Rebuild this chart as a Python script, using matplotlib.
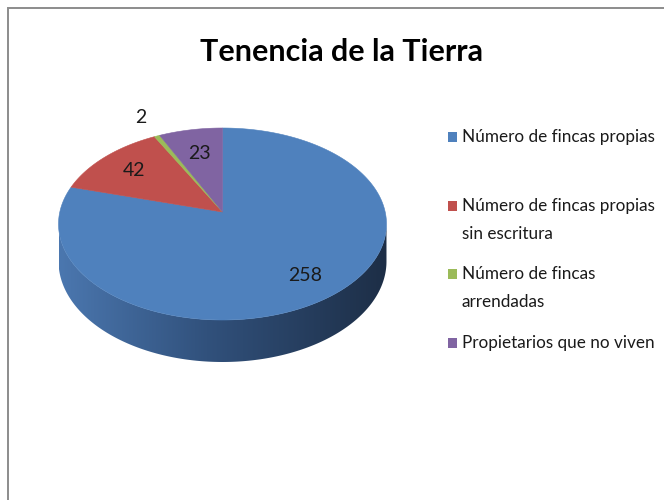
"""Tenencia de la Tierra: 3D-style pie chart (Excel look), saved to out.png."""

import matplotlib

matplotlib.use("Agg")
import matplotlib.pyplot as plt
import numpy as np
from matplotlib.colors import LinearSegmentedColormap
from matplotlib.patches import Polygon, Rectangle

# =========================
# data
# =========================
title = "Tenencia de la Tierra"
categories = [
    "Número de fincas propias",
    "Número de fincas propias\nsin escritura",
    "Número de fincas\narrendadas",
    "Propietarios que no viven",
]
values = [258, 42, 2, 23]
colors = ["#4f81bd", "#c0504d", "#9bbb59", "#8064a2"]
# radius (fraction of pie radius) where each value label sits
label_radius = [0.78, 0.745, 1.28, 0.69]

# =========================
# layout (pixel units, figure is 664x500 at dpi 100)
# =========================
W, H = 664, 500
CX, CY = 222.5, 212.0      # apex of the slices on the top face
A0, B0 = 162.7, 94.5       # horizontal / vertical radius before perspective
K = 0.125                  # perspective strength
DEPTH = 36.75              # thickness of the pie
FONT = ["Lato", "DejaVu Sans"]


def project(theta, r=1.0, depth=0.0):
    """Map angle (clockwise from 12 o'clock) on the pie disc to pixel coords."""
    u = r * np.sin(theta)
    v = r * np.cos(theta)
    s = 1.0 / (1.0 + K * v)
    return CX + A0 * u * s, CY - B0 * v * s + depth * s


def draw_side(ax):
    """Front wall of the cylinder with a left-to-right shading."""
    grid = np.linspace(0, 2 * np.pi, 3601)
    gx, _ = project(grid)
    t_right = grid[np.argmax(gx)]
    t_left = grid[np.argmin(gx)]
    arc = np.linspace(t_right, t_left, 300)
    tx, ty = project(arc)
    bx, by = project(arc[::-1], depth=DEPTH)
    pts = np.column_stack([np.r_[tx, bx], np.r_[ty, by]])
    poly = Polygon(pts, closed=True, facecolor="none", edgecolor="none")
    ax.add_patch(poly)

    cmap = LinearSegmentedColormap.from_list(
        "side", [(0.0, "#4b77af"), (0.45, "#31517c"), (1.0, "#1d2e46")]
    )
    grad = np.linspace(0, 1, 256).reshape(1, -1)
    img = ax.imshow(
        grad,
        cmap=cmap,
        extent=(pts[:, 0].min(), pts[:, 0].max(), pts[:, 1].max(), pts[:, 1].min()),
        aspect="auto",
        interpolation="bilinear",
        zorder=1,
    )
    img.set_clip_path(poly)


def draw_top(ax):
    """Top face slices plus value labels."""
    total = float(sum(values))
    start = 0.0
    for val, col, rad in zip(values, colors, label_radius):
        span = 2 * np.pi * val / total
        arc = np.linspace(start, start + span, max(int(span * 80), 4))
        ax_, ay_ = project(arc)
        pts = np.column_stack([np.r_[CX, ax_], np.r_[CY, ay_]])
        ax.add_patch(Polygon(pts, closed=True, facecolor=col, edgecolor=col, lw=0.4, zorder=2))

        lx, ly = project(start + span / 2, r=rad)
        ax.text(lx, ly, str(val), ha="center", va="center", fontsize=14,
                color="#1a1a1a", family=FONT, zorder=3)
        start += span


def draw_legend(ax):
    x_box, x_txt = 447.5, 462.0
    y0, step, line_h = 137.0, 68.7, 28.0
    for i, (name, col) in enumerate(zip(categories, colors)):
        y = y0 + i * step
        ax.add_patch(Rectangle((x_box, y - 5), 9, 10, facecolor=col, edgecolor="none", zorder=3))
        for j, line in enumerate(name.split("\n")):
            ax.text(x_txt, y + j * line_h, line, ha="left", va="center", fontsize=12.3,
                    color="#1a1a1a", family=FONT)


def main():
    fig = plt.figure(figsize=(W / 100, H / 100), dpi=100)
    ax = fig.add_axes([0, 0, 1, 1])

    # chart frame (right / bottom edges fall outside the picture)
    ax.add_patch(Rectangle((7.5, 8.0), 700, 600, facecolor="white", edgecolor="#8c8c8c", lw=1.4, zorder=0))

    draw_side(ax)
    draw_top(ax)
    draw_legend(ax)

    ax.text(342, 52, title, ha="center", va="center", fontsize=22, fontweight="bold",
            color="black", family=FONT)

    ax.set_xlim(0, W)
    ax.set_ylim(H, 0)
    ax.axis("off")
    fig.savefig("out.png", dpi=100)


if __name__ == "__main__":
    main()
